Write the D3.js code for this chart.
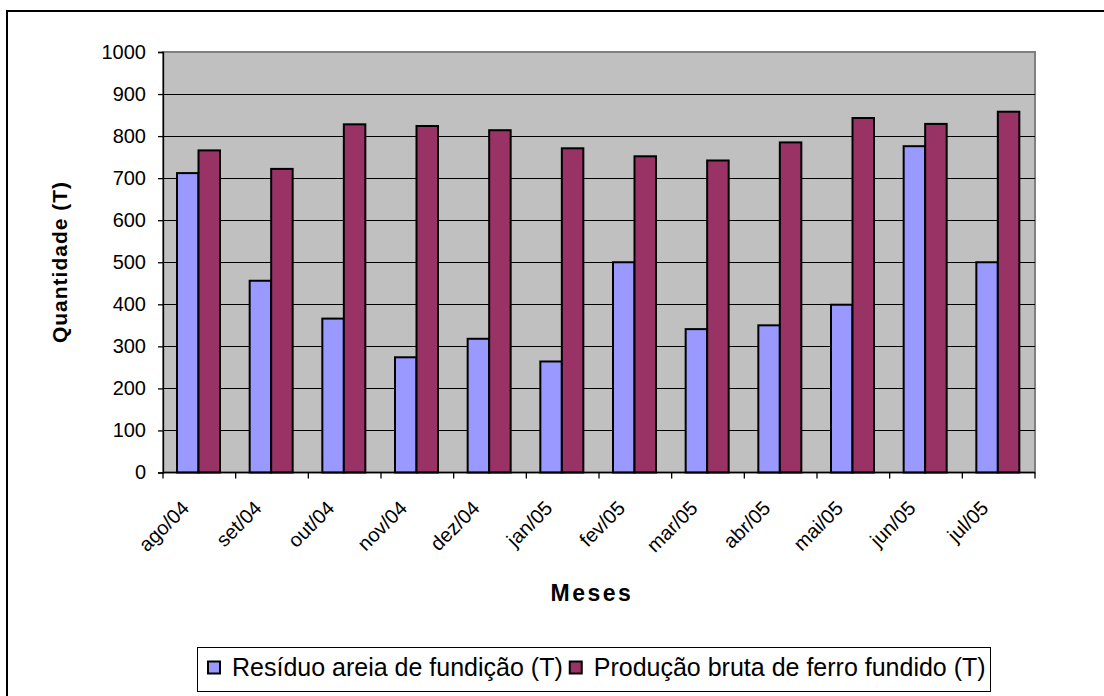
<!DOCTYPE html>
<html><head><meta charset="utf-8">
<script src="https://cdn.jsdelivr.net/npm/d3@7"></script>
<style>
body{margin:0;background:#fff;}
svg text{font-family:"Liberation Sans",Arial,sans-serif;fill:#000;}
</style></head>
<body><svg id="c" width="1104" height="696"></svg>
<script>
const categories = ["ago/04","set/04","out/04","nov/04","dez/04","jan/05","fev/05","mar/05","abr/05","mai/05","jun/05","jul/05"];
const residuo = [712, 456, 366, 274, 318, 264, 500, 341, 350, 399, 776, 500];
const producao = [766, 722, 828, 824, 814, 771, 752, 742, 785, 843, 829, 858];
const seriesNames = ["Resíduo areia de fundição (T)", "Produção bruta de ferro fundido (T)"];
const seriesColors = ["#9999ff", "#993366"];
const yTicks = [0,100,200,300,400,500,600,700,800,900,1000];

const svg = d3.select("#c");
svg.append("rect").attr("x",7).attr("y",11).attr("width",1110).attr("height",700)
  .attr("fill","#fff").attr("stroke","#000").attr("stroke-width",2);

const L=163, R=1035, T=52, B=472.5;
const x = d3.scaleBand().domain(categories).range([L,R]).padding(0);
const y = d3.scaleLinear().domain([0,1000]).range([B,T]);
const inner = d3.scaleBand().domain([0,1]).range([14, 14+43]);

svg.append("rect").attr("x",L).attr("y",T).attr("width",R-L).attr("height",B-T)
  .attr("fill","#c0c0c0").attr("stroke","#808080").attr("stroke-width",2);

svg.append("g").selectAll("line").data(yTicks.filter(d=>d>0 && d<1000)).join("line")
  .attr("x1",L).attr("x2",R).attr("y1",d=>Math.round(y(d))+0.5).attr("y2",d=>Math.round(y(d))+0.5)
  .attr("stroke","#000").attr("stroke-width",1);

const data = categories.map((c,i)=>({c, v:[residuo[i], producao[i]]}));
const g = svg.append("g");
data.forEach(d=>{
  d.v.forEach((v,k)=>{
    g.append("rect")
      .attr("x", x(d.c)+inner(k))
      .attr("y", y(v))
      .attr("width", inner.bandwidth())
      .attr("height", B-y(v))
      .attr("fill", seriesColors[k])
      .attr("stroke","#000").attr("stroke-width",2);
  });
});

const yAxis = d3.axisLeft(y).tickValues(yTicks).tickFormat(d3.format("d")).tickSize(5).tickPadding(12);
const ya = svg.append("g").attr("transform",`translate(${L},0)`).call(yAxis);
ya.selectAll("path,line").attr("stroke","#000").attr("stroke-width",1.3);
ya.selectAll("text").style("font-size","20px");

const xa = svg.append("g").attr("transform",`translate(0,${B})`);
xa.append("line").attr("x1",L).attr("x2",R).attr("stroke","#000").attr("stroke-width",1.3);
const bounds = categories.map(c=>x(c)).concat([R]);
xa.selectAll("line.t").data(bounds).join("line").attr("class","t")
  .attr("x1",d=>d).attr("x2",d=>d).attr("y1",0).attr("y2",6).attr("stroke","#000").attr("stroke-width",1.3);
xa.selectAll("text").data(categories).join("text")
  .attr("transform",d=>`translate(${x(d)+x.bandwidth()/2-14},${32}) rotate(-45)`)
  .attr("text-anchor","end").attr("dy","0.35em")
  .style("font-size","20px").text(d=>d);

svg.append("text").attr("transform",`translate(67,262) rotate(-90)`)
  .attr("text-anchor","middle").style("font-size","21px").attr("font-weight","bold")
  .attr("letter-spacing",1).text("Quantidade (T)");
svg.append("text").attr("x",592).attr("y",601).attr("text-anchor","middle")
  .style("font-size","23px").attr("font-weight","bold").attr("letter-spacing",2.5).text("Meses");

const lg = svg.append("g");
lg.append("rect").attr("x",197.5).attr("y",647.5).attr("width",793).attr("height",44)
  .attr("fill","#fff").attr("stroke","#000").attr("stroke-width",1);
let lx = 208;
seriesNames.forEach((n,k)=>{
  lg.append("rect").attr("x",lx).attr("y",661.5).attr("width",12).attr("height",12)
    .attr("fill",seriesColors[k]).attr("stroke","#000").attr("stroke-width",2);
  const t = lg.append("text").attr("x",lx+24).attr("y",676).style("font-size","25px").text(n);
  lx = lx + 24 + t.node().getComputedTextLength() + 7;
});
</script></body></html>
